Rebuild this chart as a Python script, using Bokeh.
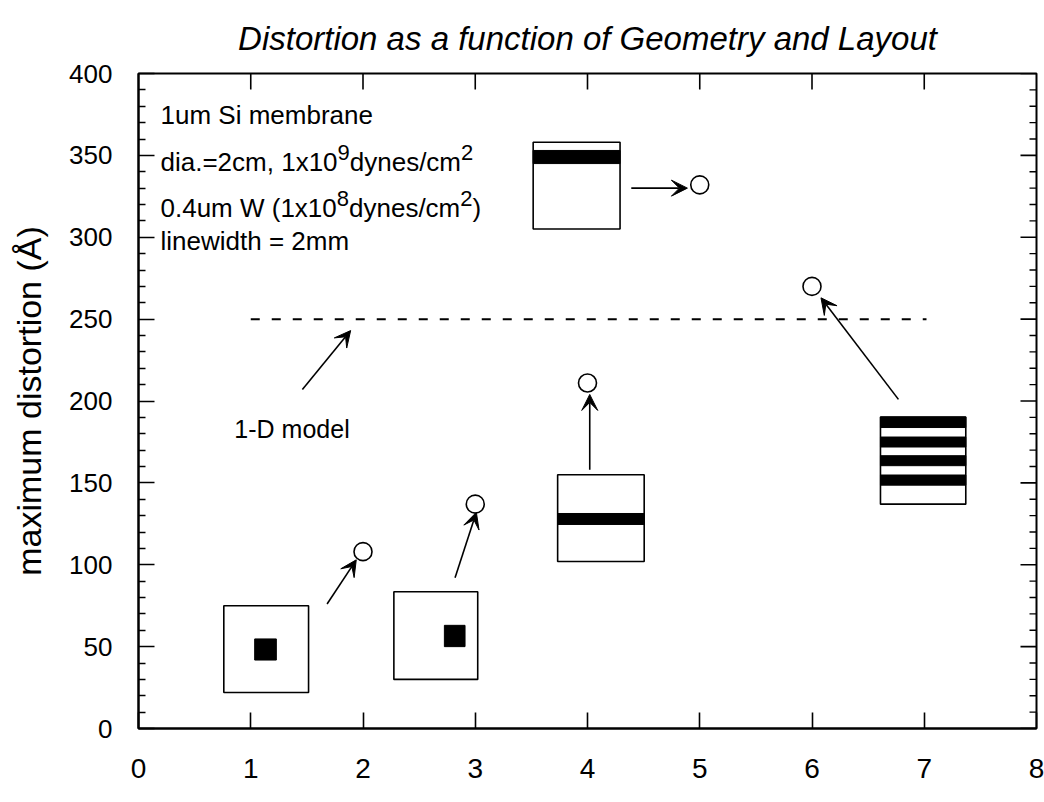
import math

from bokeh.core.properties import value
from bokeh.embed import file_html
from bokeh.models import (Arrow, ColumnDataSource, FixedTicker, Label, VeeHead)
from bokeh.plotting import figure
from bokeh.resources import INLINE

# ---- data -----------------------------------------------------------------
# layout number vs maximum distortion (Angstrom)
layout_x = [2, 3, 4, 5, 6]
max_distortion = [108, 137, 211, 332, 270]

# 1-D model prediction and the layouts it spans
model_1d_value = 250
model_1d_span = [1.0, 7.02]

x_ticks = [0, 1, 2, 3, 4, 5, 6, 7, 8]
y_ticks = [0, 50, 100, 150, 200, 250, 300, 350, 400]
y_minor_ticks = [t for t in range(0, 401, 10) if t % 50 != 0]

# ---- layout sketches (membrane outline and tungsten pattern) ---------------
sketch_left = [0.76, 2.275, 3.734, 3.516, 6.61]
sketch_right = [1.515, 3.022, 4.505, 4.29, 7.37]
sketch_bottom = [22, 30, 102, 305, 137]
sketch_top = [75, 83.5, 155, 358, 190.2]

metal_left = [1.035, 2.725, 3.734, 3.516, 6.61, 6.61, 6.61, 6.61]
metal_right = [1.228, 2.909, 4.505, 4.29, 7.37, 7.37, 7.37, 7.37]
metal_bottom = [41.8, 50, 124.6, 345, 148.6, 160.5, 171.9, 183.8]
metal_top = [54.7, 63, 131.3, 353, 154.8, 166.6, 178, 190.2]

# arrows from each sketch to its measured point, plus the 1-D model pointer
arrow_x0 = [1.68, 2.82, 4.02, 4.39, 6.77, 1.46]
arrow_y0 = [76, 92, 158, 330, 201, 207]
arrow_x1 = [1.94, 3.01, 4.02, 4.89, 6.08, 1.89]
arrow_y1 = [103, 132, 204, 330, 263, 243]

FONT = "Liberation Sans"

# advance widths (1/1000 em) used to place superscripts
ADV = {" ": 278, "(": 333, ")": 333, ",": 278, "-": 333, ".": 278,
       "/": 278, "=": 584, "W": 944, "S": 667, "a": 556, "b": 556,
       "c": 500, "d": 556, "e": 556, "h": 556, "i": 222, "l": 222,
       "m": 833, "n": 556, "r": 333, "s": 500, "t": 278, "u": 556,
       "w": 722, "x": 500, "y": 500}
for dgt in "0123456789":
    ADV[dgt] = 556


def width(s, size):
    return sum(ADV.get(c, 556) for c in s) * size / 1000.0


p = figure(frame_width=898, frame_height=655,
           x_range=(0, 8), y_range=(0, 400),
           output_backend="svg", toolbar_location=None,
           min_border_left=138, min_border_right=8,
           min_border_top=73, min_border_bottom=74,
           background_fill_color="white", border_fill_color="white")
p.grid.visible = False
p.outline_line_color = "black"
p.outline_line_width = 2

bottom_axis = p.below[0]
left_axis = p.left[0]
bottom_axis.ticker = FixedTicker(ticks=x_ticks)
left_axis.ticker = FixedTicker(ticks=y_ticks, minor_ticks=y_minor_ticks)

for ax in [bottom_axis, left_axis]:
    ax.axis_line_color = "black"
    ax.axis_line_width = 2
    ax.major_tick_line_color = "black"
    ax.major_tick_line_width = 1.6
    ax.minor_tick_line_color = "black"
    ax.minor_tick_line_width = 1.4
    ax.major_tick_in = 16
    ax.major_tick_out = 0
    ax.minor_tick_in = 7
    ax.minor_tick_out = 0
    ax.major_label_text_font = FONT
    ax.major_label_text_color = "black"

bottom_axis.minor_tick_line_color = None
bottom_axis.major_label_text_font_size = "28px"
bottom_axis.major_label_standoff = 30
left_axis.major_label_text_font_size = "26px"
left_axis.major_label_standoff = 26

left_axis.axis_label = "maximum distortion (Å)"
left_axis.axis_label_text_font = FONT
left_axis.axis_label_text_font_size = "34px"
left_axis.axis_label_text_font_style = "normal"
left_axis.axis_label_text_color = "black"
left_axis.axis_label_standoff = 18

p.title.text = "Distortion as a function of Geometry and Layout"
p.title.text_font = FONT
p.title.text_font_size = "33px"
p.title.text_font_style = "italic"
p.title.text_color = "black"
p.title.align = "center"
p.title.offset = -8
p.title.standoff = 33

# mirrored inward ticks along the top and right edges
p.ray(x=x_ticks[1:-1], y=[400] * 7, length=16, length_units="screen",
      angle=-math.pi / 2, line_color="black", line_width=1.6)
p.ray(x=[8] * len(y_ticks), y=y_ticks, length=16, length_units="screen",
      angle=math.pi, line_color="black", line_width=1.6)
p.ray(x=[8] * len(y_minor_ticks), y=y_minor_ticks, length=7, length_units="screen",
      angle=math.pi, line_color="black", line_width=1.4)

# 1-D model line
p.line(model_1d_span, [model_1d_value, model_1d_value],
       line_color="black", line_width=2, line_dash="9 12")

# sketches
p.quad(left=sketch_left, right=sketch_right, bottom=sketch_bottom, top=sketch_top,
       fill_color="white", line_color="black", line_width=1.6)
p.quad(left=metal_left, right=metal_right, bottom=metal_bottom, top=metal_top,
       fill_color="black", line_color="black", line_width=1)

# arrows
arrow_src = ColumnDataSource(dict(x0=arrow_x0, y0=arrow_y0, x1=arrow_x1, y1=arrow_y1))
p.add_layout(Arrow(x_start="x0", y_start="y0", x_end="x1", y_end="y1",
                   source=arrow_src, line_color="black", line_width=1.6,
                   end=VeeHead(size=16, fill_color="black", line_color="black",
                               line_width=1)))

# measured points
p.scatter(layout_x, max_distortion, marker="circle", size=18,
          fill_color="white", line_color="black", line_width=1.6)

# annotation block with superscripts
MAIN = 26
SUP = 22
block_x = 0.196
lines = [
    (374.7, [("1um Si membrane", False)]),
    (345.8, [("dia.=2cm, 1x10", False), ("9", True), ("dynes/cm", False), ("2", True)]),
    (317.6, [("0.4um W (1x10", False), ("8", True), ("dynes/cm", False), ("2", True), (")", False)]),
    (297.9, [("linewidth = 2mm", False)]),
]
norm = dict(x=[], y=[], text=[], dx=[])
sup = dict(x=[], y=[], text=[], dx=[])
for base_y, segs in lines:
    off = 0.0
    for s, is_sup in segs:
        tgt = sup if is_sup else norm
        tgt["x"].append(block_x)
        tgt["y"].append(base_y)
        tgt["text"].append(s)
        tgt["dx"].append(off)
        off += width(s, SUP if is_sup else MAIN)

p.text(x="x", y="y", text="text", x_offset="dx", source=ColumnDataSource(norm),
       text_font=value(FONT), text_font_size=f"{MAIN}px", text_color="black",
       text_align="left", text_baseline="alphabetic")
p.text(x="x", y="y", text="text", x_offset="dx", y_offset=-10,
       source=ColumnDataSource(sup),
       text_font=value(FONT), text_font_size=f"{SUP}px", text_color="black",
       text_align="left", text_baseline="alphabetic")

p.add_layout(Label(x=0.854, y=183, text="1-D model", text_font=FONT,
                   text_font_size="25px", text_color="black",
                   text_align="left", text_baseline="alphabetic"))

open("out.html", "w").write(file_html(p, INLINE))
